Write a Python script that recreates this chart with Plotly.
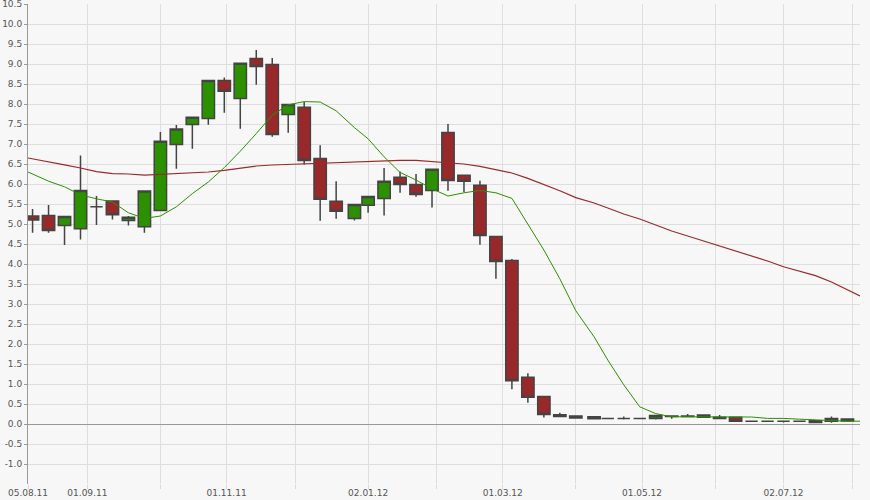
import plotly.graph_objects as go

# ---- candle data (weekly) ----
dates = ["2011-08-08","2011-08-15","2011-08-22","2011-08-29","2011-09-05","2011-09-12","2011-09-19","2011-09-26",
         "2011-10-03","2011-10-10","2011-10-17","2011-10-24","2011-10-31","2011-11-07","2011-11-14","2011-11-21",
         "2011-11-28","2011-12-05","2011-12-12","2011-12-19","2011-12-27","2012-01-02","2012-01-09","2012-01-16",
         "2012-01-23","2012-01-30","2012-02-06","2012-02-13","2012-02-20","2012-02-27","2012-03-05","2012-03-12",
         "2012-03-19","2012-03-26","2012-04-02","2012-04-10","2012-04-16","2012-04-23","2012-04-30","2012-05-07",
         "2012-05-14","2012-05-21","2012-05-28","2012-06-04","2012-06-11","2012-06-18","2012-06-25","2012-07-02",
         "2012-07-09","2012-07-16","2012-07-23","2012-07-30"]
opens  = [5.20,5.21,4.96,4.88,5.43,5.575,5.09,4.93,5.34,6.99,7.49,7.64,8.59,8.14,9.14,8.99,
          7.74,7.92,6.64,5.57,5.14,5.47,5.64,6.17,5.99,5.84,7.29,6.22,5.97,4.69,4.09,1.17,
          0.69,0.23,0.20,0.18,0.14,0.14,0.14,0.14,0.20,0.20,0.17,0.17,0.17,0.07,0.07,0.07,
          0.07,0.08,0.07,0.125]
highs  = [5.375,5.475,5.20,6.71,5.70,5.575,5.20,5.825,7.30,7.475,7.67,8.59,8.66,9.02,9.35,9.15,
          7.99,8.05,6.97,6.07,5.49,5.69,6.40,6.31,6.25,6.37,7.50,6.22,6.08,4.69,4.125,1.27,
          0.69,0.28,0.20,0.18,0.15,0.19,0.14,0.21,0.21,0.25,0.225,0.225,0.17,0.07,0.07,0.07,
          0.07,0.08,0.19,0.125]
lows   = [4.78,4.78,4.475,4.61,4.975,5.11,4.96,4.78,5.34,6.38,6.88,7.48,7.78,7.38,8.48,7.18,
          7.28,6.49,5.08,5.13,5.09,5.28,5.21,5.78,5.68,5.41,5.83,5.80,4.48,3.63,0.87,0.53,
          0.16,0.19,0.14,0.13,0.12,0.11,0.12,0.11,0.13,0.175,0.17,0.14,0.07,0.07,0.07,0.035,
          0.07,0.035,0.03,0.075]
closes = [5.10,4.84,5.19,5.84,5.43,5.23,5.17,5.825,7.07,7.375,7.67,8.59,8.32,9.02,8.94,7.24,
          7.99,6.59,5.62,5.32,5.49,5.69,6.07,5.99,5.74,6.37,6.09,6.07,4.71,4.06,1.08,0.67,
          0.24,0.19,0.15,0.13,0.14,0.14,0.14,0.21,0.19,0.19,0.225,0.14,0.07,0.07,0.07,0.07,
          0.07,0.04,0.14,0.075]

# ---- moving averages ----
ma_dates = ["2011-08-06"] + dates + ["2012-08-04 12:00"]
ma_short = [6.30, 6.25,6.07,5.93,5.73,5.63,5.55,5.28,5.14,5.20,5.43,5.76,6.05,6.41,6.82,7.26,7.72,
            7.98,8.06,8.05,7.83,7.41,7.13,6.68,6.29,6.10,5.88,5.70,5.78,5.84,5.78,5.64,4.98,
            4.35,3.63,2.83,2.18,1.60,0.98,0.43,0.26,0.18,0.18,0.18,0.175,0.175,0.175,0.14,0.14,
            0.12,0.10,0.075,0.07, 0.07]
ma_long = [6.65, 6.63,6.56,6.48,6.40,6.31,6.26,6.25,6.22,6.24,6.25,6.28,6.30,6.34,6.40,6.45,6.475,
           6.49,6.50,6.51,6.525,6.55,6.57,6.575,6.59,6.59,6.56,6.54,6.50,6.44,6.36,6.275,6.14,
           5.99,5.83,5.66,5.525,5.40,5.25,5.125,4.975,4.825,4.70,4.575,4.45,4.325,4.19,4.075,3.93,
           3.825,3.71,3.55,3.35, 3.20]

# ---- axis ticks ----
x_tickvals = ["2011-08-06","2011-09-01","2011-10-03","2011-11-01","2011-12-01","2012-01-02",
              "2012-02-01","2012-03-01","2012-04-02","2012-05-01","2012-06-02","2012-07-02","2012-08-01"]
x_ticktext = ["05.08.11","01.09.11","","01.11.11","","02.01.12","","01.03.12","","01.05.12","","02.07.12",""]
y_tickvals = [v / 2 for v in range(-2, 22)]
y_ticktext = [f"{v:.1f}" for v in y_tickvals]

GREEN = "#2b9100"
RED = "#99282b"
BORDER = "#444444"

fig = go.Figure()
fig.add_trace(go.Scatter(x=ma_dates, y=ma_long, mode="lines",
                         line=dict(color="#9a2a2a", width=1.2), hoverinfo="skip"))
fig.add_trace(go.Scatter(x=ma_dates, y=ma_short, mode="lines",
                         line=dict(color=GREEN, width=1), hoverinfo="skip"))
fig.add_trace(go.Candlestick(
    x=dates, open=opens, high=highs, low=lows, close=closes,
    increasing=dict(fillcolor=GREEN, line=dict(color=BORDER, width=1.5)),
    decreasing=dict(fillcolor=RED, line=dict(color=BORDER, width=1.5)),
    whiskerwidth=0, hoverinfo="skip"))

fig.update_layout(
    width=870, height=500,
    margin=dict(l=28, r=10, t=4, b=16),
    paper_bgcolor="#f7f7f7", plot_bgcolor="#f7f7f7",
    showlegend=False,
    boxgap=0.1, boxgroupgap=0,
    font=dict(family="DejaVu Sans, Verdana, sans-serif", size=9, color="#555555"),
)
fig.update_xaxes(
    type="date", range=["2011-08-06", "2012-08-04 12:00"],
    rangeslider=dict(visible=False),
    tickmode="array", tickvals=x_tickvals, ticktext=x_ticktext,
    showgrid=True, gridcolor="#dedede", gridwidth=1,
    ticks="outside", ticklen=4, tickcolor="#d8d8d8",
    ticklabelstandoff=-4,
    showline=False, zeroline=False,
    automargin=False, ticklabeloverflow="allow",
)
fig.update_yaxes(
    range=[-1.5, 10.5],
    tickmode="array", tickvals=y_tickvals, ticktext=y_ticktext,
    showgrid=True, gridcolor="#dedede", gridwidth=1,
    ticks="outside", ticklen=3, tickcolor="#999999",
    showline=True, linecolor="#999999", linewidth=1,
    zeroline=True, zerolinecolor="#999999", zerolinewidth=1,
    automargin=False, ticklabeloverflow="allow",
)

fig.write_html("out.html", config={"responsive": False, "displayModeBar": False},
               post_script="document.body.style.margin='0';document.body.style.padding='0';"
                           "document.body.style.background='#f7f7f7';")
